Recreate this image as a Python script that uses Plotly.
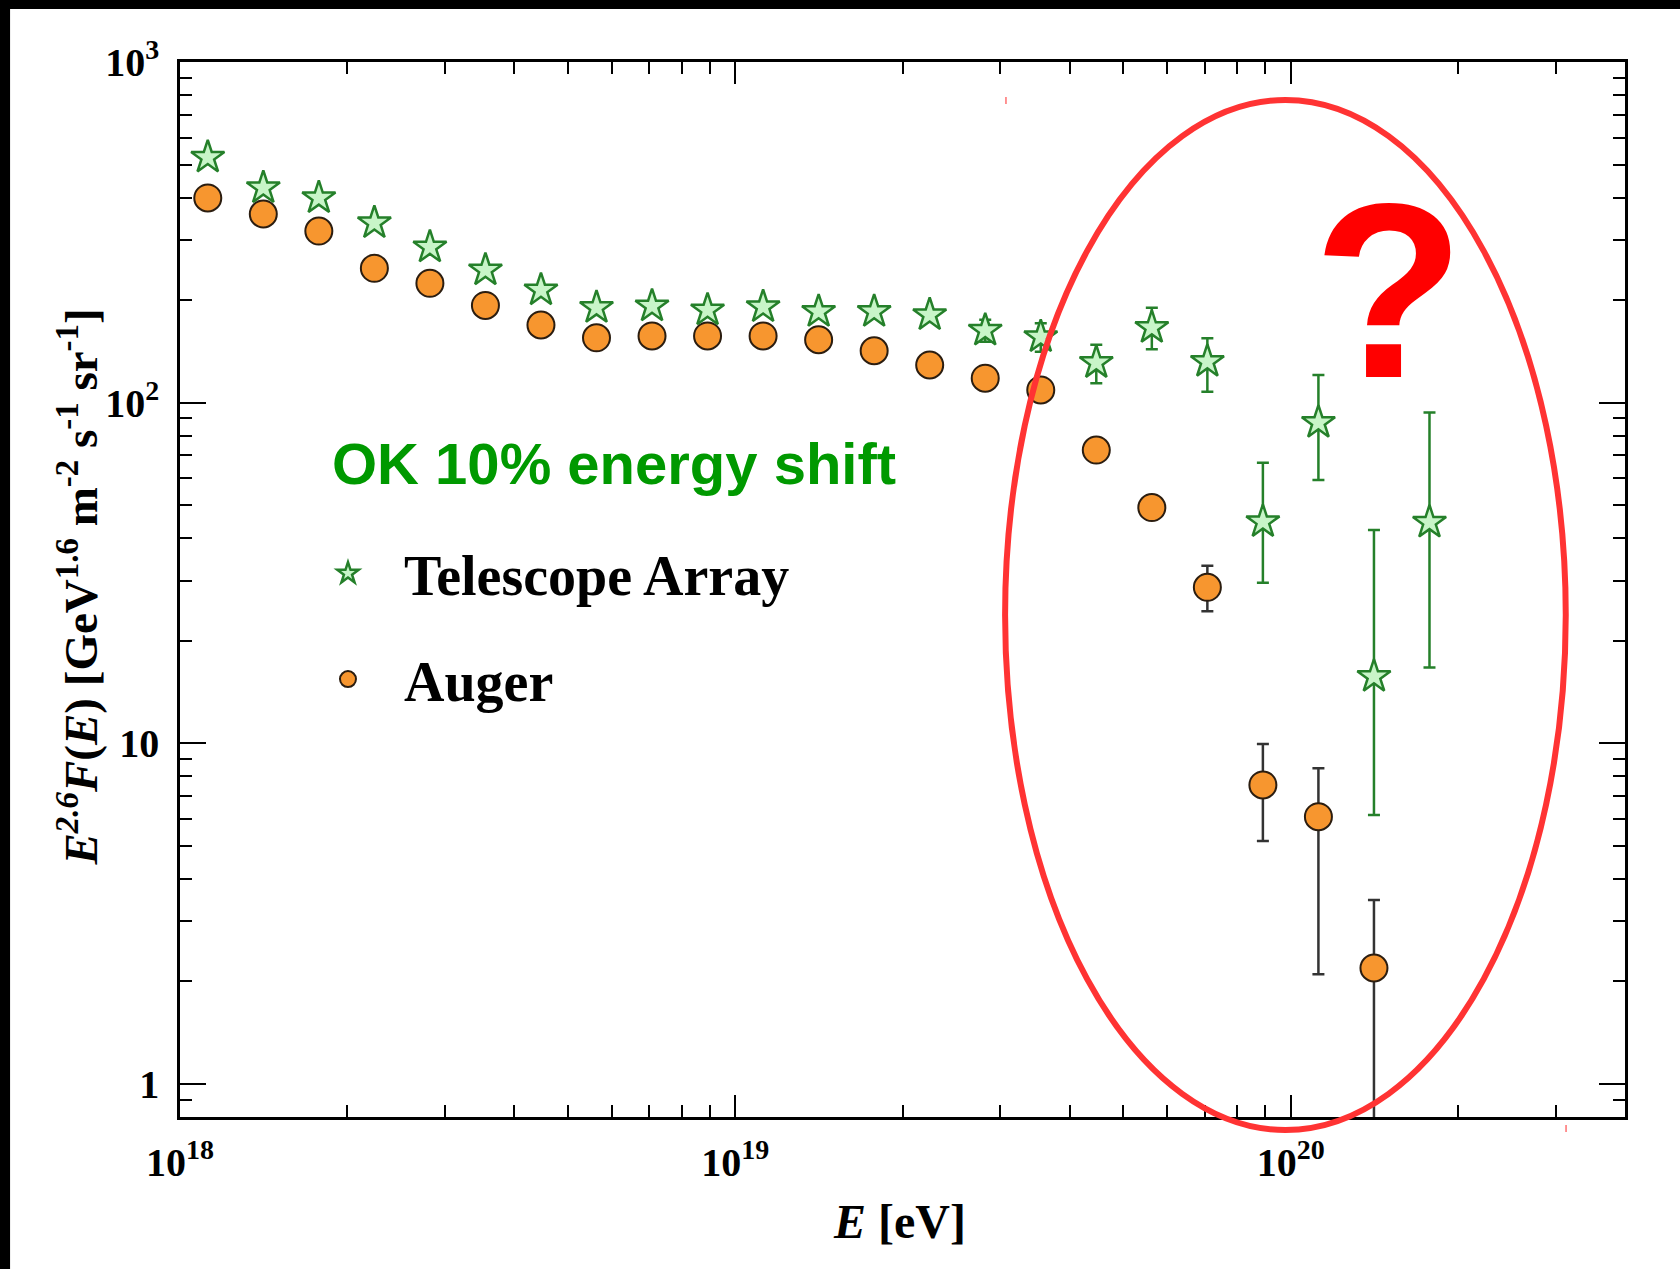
import plotly.graph_objects as go

# ---------------- data ----------------
log_energy = [18.05, 18.15, 18.25, 18.35, 18.45, 18.55, 18.65, 18.75, 18.85, 18.95,
              19.05, 19.15, 19.25, 19.35, 19.45, 19.55, 19.65, 19.75, 19.85, 19.95,
              20.05, 20.15, 20.25]

ta_flux = [525, 427, 399, 337, 286, 245, 214, 190, 192, 187,
           191, 185, 185, 181, 163, 156, 131, 166, 132, 44.7,
           87.4, 15.7, 44.5]
ta_upper = [None, None, None, None, None, None, None, None, None, None,
            None, None, None, None, 175, 171, 148, 190, 154.5, 66.6,
            120.5, 42.3, 93.5]
ta_lower = [None, None, None, None, None, None, None, None, None, None,
            None, None, None, None, 151, 141, 114, 143.5, 107.7, 29.6,
            59.3, 6.16, 16.7]

auger_flux = [399, 358, 319, 248, 224, 193, 169, 155, 157, 157,
              157, 153, 142, 129, 118, 109, 72.6, 49.2, 28.7, 7.55,
              6.09, 2.19]
auger_upper = [None, None, None, None, None, None, None, None, None, None,
               None, None, None, None, None, None, None, None, 33.2, 9.95,
               8.45, 3.47]
auger_lower = [None, None, None, None, None, None, None, None, None, None,
               None, None, None, None, None, None, None, None, 24.4, 5.17,
               2.10, 0.5]

x_tick_vals = [1e18, 1e19, 1e20]
x_tick_text = ["10<sup>18</sup>", "10<sup>19</sup>", "10<sup>20</sup>"]
y_tick_vals = [1, 10, 100, 1000]
y_tick_text = ["1", "10", "10<sup>2</sup>", "10<sup>3</sup>"]

# ---------------- derived ----------------
ta_energy = [10.0 ** v for v in log_energy]
auger_energy = [10.0 ** v for v in log_energy[:len(auger_flux)]]


def plus(vals, up):
    return [(u - v) if u is not None else 0 for v, u in zip(vals, up)]


def minus(vals, lo):
    return [(v - l) if l is not None else 0 for v, l in zip(vals, lo)]


x_minor = [m * 10.0 ** d for d in (18, 19) for m in range(2, 10)] + [2e20, 3e20]
y_minor = [0.9] + [m * 10.0 ** d for d in (0, 1, 2) for m in range(2, 10)]

STAR_FILL = "#c8f5c8"
STAR_LINE = "#25802a"
DOT_FILL = "#f7962f"
DOT_LINE = "#2b1d10"
SERIF = "Liberation Serif"
SANS = "Liberation Sans"

fig = go.Figure()

fig.add_trace(go.Scatter(
    x=auger_energy, y=auger_flux, mode="markers", showlegend=False,
    marker=dict(symbol="circle", size=27, color=DOT_FILL,
                line=dict(color=DOT_LINE, width=2)),
    error_y=dict(type="data", symmetric=False,
                 array=plus(auger_flux, auger_upper),
                 arrayminus=minus(auger_flux, auger_lower),
                 color="#333333", thickness=2.5, width=6),
))
fig.add_trace(go.Scatter(
    x=ta_energy, y=ta_flux, mode="markers", showlegend=False,
    marker=dict(symbol="star", size=25, color=STAR_FILL,
                line=dict(color=STAR_LINE, width=2.5)),
    error_y=dict(type="data", symmetric=False,
                 array=plus(ta_flux, ta_upper),
                 arrayminus=minus(ta_flux, ta_lower),
                 color=STAR_LINE, thickness=2.5, width=6),
))

# legend entries
fig.add_trace(go.Scatter(
    x=[None], y=[None], mode="markers", name="Telescope Array",
    legendgroup="ta", legendrank=1,
    marker=dict(symbol="star", size=25, color=STAR_FILL,
                line=dict(color=STAR_LINE, width=2.5)),
))
fig.add_trace(go.Scatter(
    x=[None], y=[None], mode="markers", name="Auger",
    legendgroup="auger", legendrank=2,
    marker=dict(symbol="circle", size=27, color=DOT_FILL,
                line=dict(color=DOT_LINE, width=2)),
))

axis_common = dict(
    showline=True, linecolor="black", linewidth=2.5, mirror="ticks",
    ticks="inside", tickcolor="black", tickwidth=2,
    showgrid=False, zeroline=False,
    tickfont=dict(family=SERIF, size=40, color="black", weight="bold"),
)

fig.update_xaxes(
    type="log", range=[18, 20.60206],
    tickmode="array", tickvals=x_tick_vals, ticktext=x_tick_text,
    ticklen=22, ticklabelstandoff=8,
    minor=dict(tickmode="array", tickvals=x_minor, ticks="inside",
               ticklen=12, tickwidth=2, tickcolor="black", showgrid=False),
    **axis_common,
)
fig.update_yaxes(
    type="log", range=[-0.09691, 3],
    tickmode="array", tickvals=y_tick_vals, ticktext=y_tick_text,
    ticklen=26, ticklabelstandoff=10,
    minor=dict(tickmode="array", tickvals=y_minor, ticks="inside",
               ticklen=12, tickwidth=2, tickcolor="black", showgrid=False),
    **axis_common,
)

annotations = [
    dict(text="OK 10% energy shift", x=0.3003, y=0.619, xref="paper", yref="paper",
         xanchor="center", yanchor="middle", showarrow=False,
         font=dict(family=SANS, size=58, color="#009900", weight="bold")),
    dict(text="?", x=0.837, y=0.7825, xref="paper", yref="paper",
         xanchor="center", yanchor="middle", showarrow=False,
         font=dict(family=SANS, size=248, color="#ff0000", weight="bold")),
    dict(text="<i>E</i><sup><i>2.6</i></sup><i>F</i>(<i>E</i>) [GeV<sup>1.6</sup> m<sup>-2</sup> s<sup>-1</sup> sr<sup>-1</sup>]",
         x=-0.0705, y=0.502, xref="paper", yref="paper", textangle=-90,
         xanchor="center", yanchor="middle", showarrow=False,
         font=dict(family=SERIF, size=47, color="black", weight="bold")),
    dict(text="<i>E</i> [eV]", x=0.498, y=-0.0995, xref="paper", yref="paper",
         xanchor="center", yanchor="middle", showarrow=False,
         font=dict(family=SERIF, size=48, color="black", weight="bold")),
]

shapes = [
    dict(type="circle", xref="paper", yref="paper", x0=0.571, x1=0.959,
         y0=-0.0123, y1=0.964, line=dict(color="#ff3333", width=6), layer="above"),
    dict(type="rect", xref="paper", yref="paper", x0=-0.1246, x1=1.04,
         y0=1.0502, y1=1.06, fillcolor="black", line=dict(width=0), layer="above"),
    dict(type="rect", xref="paper", yref="paper", x0=-0.1246, x1=-0.1176,
         y0=-0.15, y1=1.06, fillcolor="black", line=dict(width=0), layer="above"),
    dict(type="line", xref="paper", yref="paper", x0=0.5716, x1=0.5716,
         y0=0.9602, y1=0.9668, line=dict(color="#ff7070", width=1.5)),
    dict(type="line", xref="paper", yref="paper", x0=0.9592, x1=0.9592,
         y0=-0.0142, y1=-0.0076, line=dict(color="#ff7070", width=1.5)),
]

fig.update_layout(
    width=1680, height=1269,
    margin=dict(l=180, r=55, t=62, b=152),
    paper_bgcolor="white", plot_bgcolor="white",
    showlegend=True,
    legend=dict(x=0.0775, y=0.556, xanchor="left", yanchor="top",
                bgcolor="rgba(0,0,0,0)", borderwidth=0,
                font=dict(family=SERIF, size=56, color="black", weight="bold"),
                itemwidth=102, tracegroupgap=30, itemsizing="trace"),
    annotations=annotations,
    shapes=shapes,
)

fig.write_html("out.html")
